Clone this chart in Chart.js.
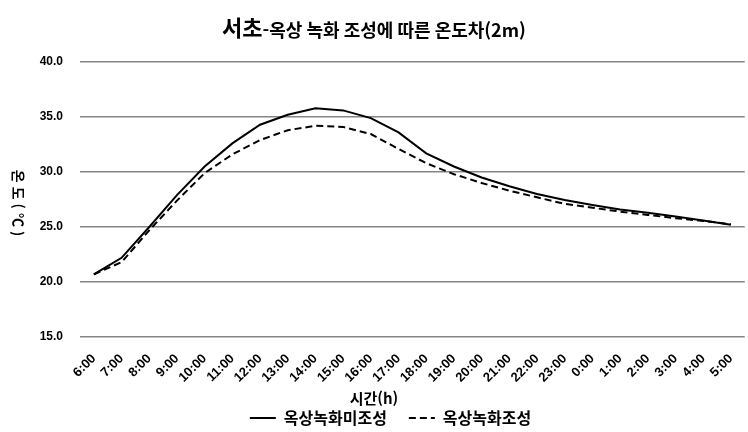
<!DOCTYPE html>
<html lang="ko">
<head>
    <meta charset="UTF-8">
    <title>서초 옥상 녹화 온도차</title>
    <script src="https://cdn.jsdelivr.net/npm/chart.js"></script>
    <style>
        body {
            margin: 0;
            background: #ffffff;
        }
        #wrap {
            width: 748px;
            height: 432px;
        }
    </style>
</head>
<body>
<div id="wrap"><canvas id="tempChart"></canvas></div>

<script>
    // hours on the x axis
    const hours = ['6:00', '7:00', '8:00', '9:00', '10:00', '11:00', '12:00', '13:00', '14:00', '15:00',
        '16:00', '17:00', '18:00', '19:00', '20:00', '21:00', '22:00', '23:00', '0:00', '1:00',
        '2:00', '3:00', '4:00', '5:00'];

    // without roof greening (solid)
    const noGreening = [20.7, 22.2, 25.0, 27.9, 30.5, 32.6, 34.3, 35.2, 35.8, 35.6,
        34.9, 33.6, 31.7, 30.5, 29.5, 28.7, 28.0, 27.45, 27.0, 26.6,
        26.3, 25.95, 25.6, 25.2];

    // with roof greening (dashed)
    const withGreening = [20.7, 21.8, 24.7, 27.4, 29.9, 31.6, 32.9, 33.8, 34.2, 34.1,
        33.45, 32.1, 30.8, 29.8, 29.0, 28.3, 27.7, 27.1, 26.75, 26.4,
        26.1, 25.8, 25.55, 25.25];

    const yTicks = [15, 20, 25, 30, 35, 40];

    const korFont = '"Noto Sans CJK KR", "Noto Sans", sans-serif';
    const numFont = '"Liberation Sans", sans-serif';

    // title with two sizes, rotated y title and x title
    const extraText = {
        id: 'extraText',
        afterDraw(chart) {
            const ctx = chart.ctx;
            ctx.save();
            ctx.fillStyle = '#000';
            ctx.textBaseline = 'middle';

            // title
            const big = 'bold 22px ' + korFont;
            const small = 'bold 18px ' + korFont;
            const part1 = '서초';
            const part2 = '-옥상 녹화 조성에 따른 온도차(2m)';
            ctx.font = big;
            const w1 = ctx.measureText(part1).width;
            ctx.font = small;
            const w2 = ctx.measureText(part2).width;
            const x = 374 - (w1 + w2) / 2;
            ctx.textAlign = 'left';
            ctx.font = big;
            ctx.fillText(part1, x, 28);
            ctx.font = small;
            ctx.fillText(part2, x + w1, 30);

            // x axis title
            ctx.textAlign = 'center';
            ctx.font = 'bold 15px ' + korFont;
            ctx.fillText('시간(h)', 374, 398);

            // y axis title, reads top to bottom
            ctx.translate(18, 205);
            ctx.rotate(Math.PI / 2);
            ctx.font = 'bold 14px ' + korFont;
            ctx.letterSpacing = '4px';
            ctx.fillText('온도(℃)', 0, 0);
            ctx.restore();
        }
    };

    const ctx = document.getElementById('tempChart').getContext('2d');
    const tempChart = new Chart(ctx, {
        type: 'line',
        data: {
            labels: hours,
            datasets: [{
                label: '옥상녹화미조성',
                data: noGreening,
                borderColor: '#000',
                backgroundColor: '#000',
                borderWidth: 2,
                pointRadius: 0,
                tension: 0
            }, {
                label: '옥상녹화조성',
                data: withGreening,
                borderColor: '#000',
                backgroundColor: '#000',
                borderWidth: 2,
                borderDash: [7, 4],
                pointRadius: 0,
                tension: 0
            }]
        },
        options: {
            responsive: true,
            maintainAspectRatio: false,
            animation: false,
            layout: {
                padding: { top: 62, right: 3, left: 36, bottom: -4 }
            },
            plugins: {
                title: { display: false },
                tooltip: { enabled: false },
                legend: {
                    position: 'bottom',
                    labels: {
                        usePointStyle: true,
                        pointStyle: 'line',
                        pointStyleWidth: 26,
                        padding: 22,
                        color: '#000',
                        font: { family: korFont, size: 16, weight: 'bold' },
                        // keep dash and width of each line in the legend
                        generateLabels(chart) {
                            const items = Chart.defaults.plugins.legend.labels.generateLabels(chart);
                            items.forEach(item => {
                                const ds = chart.data.datasets[item.datasetIndex];
                                item.lineDash = ds.borderDash || [];
                                item.lineWidth = 2;
                            });
                            return items;
                        }
                    }
                }
            },
            scales: {
                x: {
                    offset: true,
                    grid: { display: false },
                    border: { display: false },
                    ticks: {
                        maxRotation: 45,
                        minRotation: 45,
                        padding: 6,
                        color: '#000',
                        font: { family: numFont, size: 13, weight: 'bold' }
                    },
                    afterFit(scale) {
                        scale.height = 51;
                    }
                },
                y: {
                    min: 15,
                    max: 40,
                    afterBuildTicks(scale) {
                        scale.ticks = yTicks.map(v => ({ value: v }));
                    },
                    grid: {
                        color: '#868686',
                        lineWidth: 1.5,
                        drawTicks: false
                    },
                    border: { display: false },
                    ticks: {
                        padding: 17,
                        color: '#000',
                        font: { family: numFont, size: 12, weight: 'bold' },
                        callback: v => v.toFixed(1)
                    },
                    afterFit(scale) {
                        scale.width = 44;
                    }
                }
            }
        },
        plugins: [extraText]
    });
</script>
</body>
</html>
